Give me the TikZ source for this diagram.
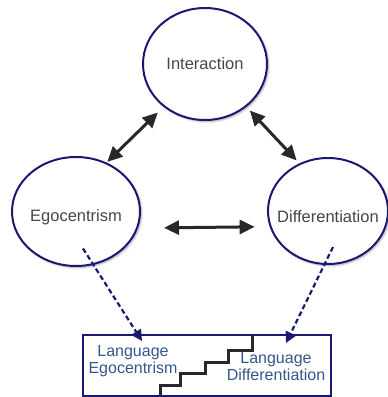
\documentclass[tikz,border=0pt]{standalone}
\usepackage{fontspec}
\setmainfont{Liberation Sans}
\usetikzlibrary{shapes.geometric,arrows.meta,shadows.blur}

\definecolor{ringblue}{RGB}{25,25,115}
\definecolor{textgray}{RGB}{70,70,70}
\definecolor{langblue}{RGB}{55,85,140}
\definecolor{arrowgray}{RGB}{40,40,40}

\tikzset{
  stage/.style={ellipse, draw=ringblue, line width=2pt, fill=white, inner sep=0pt,
    blur shadow={shadow xshift=1.5pt, shadow yshift=-1.5pt, shadow opacity=35, shadow blur steps=6}},
  stagetext/.style={text=textgray, font=\fontsize{16.5}{18}\selectfont},
  twoway/.style={{Triangle[length=15pt,width=14pt]}-{Triangle[length=15pt,width=14pt]},
    line width=3pt, draw=arrowgray},
  towards/.style={-{Triangle[length=11pt,width=11pt]}, draw=ringblue, line width=2.2pt,
    dash pattern=on 5pt off 3pt},
  langtext/.style={text=langblue, align=center, font=\fontsize{16}{17}\selectfont},
  stairs/.style={draw=arrowgray, line width=3pt}
}

\begin{document}
\begin{tikzpicture}[x=1pt, y=-1pt]
%%%%%%%%%%%%%%%%%%%%%%%%%%%%%%%%%%%%%%%%%%% HELP LINES
%\draw[help lines, step=20] (0,0) grid (388,397);
\useasboundingbox (0,0) rectangle (388,397);

%%%%%%%%%%%%%%%%%%%%%%%%%%%%%%%%%%%%%%%%%%% stages
\node[stage, minimum width=124pt, minimum height=112pt, label={[stagetext]center:Interaction}] (inter) at (205,64) {};
\node[stage, minimum width=128pt, minimum height=109pt, label={[stagetext, yshift=-6pt]center:Egocentrism}] (ego) at (76,211.5) {};
\node[stage, minimum width=120pt, minimum height=106pt, label={[stagetext, yshift=-6pt]center:Differentiation}] (diff) at (328,211) {};

%%%%% language box
\node[draw=ringblue, line width=2pt, minimum width=248pt, minimum height=61pt, inner sep=0pt] (stairsbox) at (207,365.5) {};
\draw[stairs] (160,396) |- (180,385) |- (205,373) |- (228,362) |- (252,350) -- (252,335.5);
\node[langtext] (langego) at (133,361) {Language\\Egocentrism};
\node[langtext] (langdiff) at (276,367) {Language\\Differentiation};

%%%%% edges
\draw[twoway, shorten <=8pt, shorten >=1pt] (inter.226) -- (ego.58);
\draw[twoway, shorten <=5pt, shorten >=4pt] (inter.314) -- (diff.121);
\draw[twoway, shorten <=26pt, shorten >=15pt] (ego.-15) -- (diff.195);
\draw[towards] ([shift={(7,37)}]ego.center) -- ([shift={(60,7)}]stairsbox.north west);
\draw[towards] ([shift={(5,36)}]diff.center) -- ([shift={(-46,9)}]stairsbox.north east);
\end{tikzpicture}
\end{document}
